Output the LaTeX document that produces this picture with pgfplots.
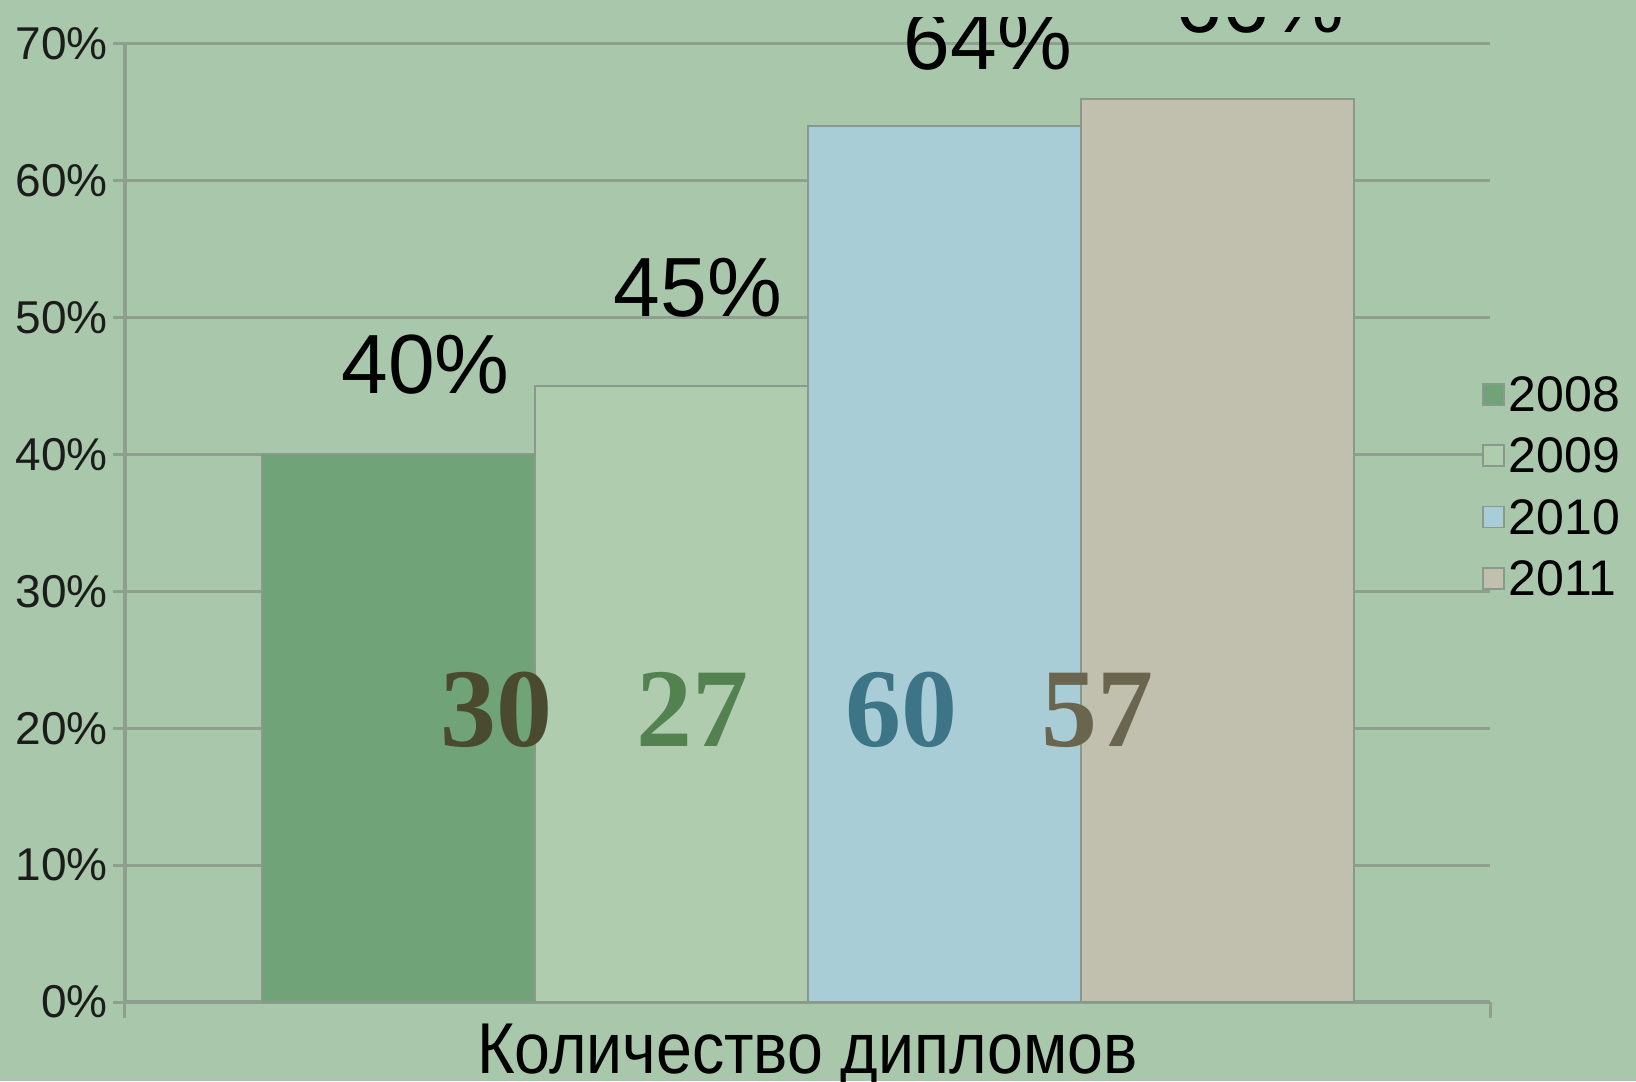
\documentclass[border=0pt]{standalone}
\usepackage{graphicx}
\usepackage{pgfplots}
\pgfplotsset{compat=1.18}
\usepackage{fontspec}
\setmainfont{Liberation Sans}
\newfontfamily\tnr{Liberation Serif}
\definecolor{bgc}{HTML}{A9C7AB}
\definecolor{gridc}{HTML}{8F9F8E}
\definecolor{edgec}{HTML}{8A9A8A}
\definecolor{cA}{HTML}{70A377}
\definecolor{cB}{HTML}{AFCCAF}
\definecolor{cC}{HTML}{A9CDD7}
\definecolor{cD}{HTML}{C1BFAE}
\definecolor{nA}{HTML}{4A4A2E}
\definecolor{nB}{HTML}{53814F}
\definecolor{nC}{HTML}{3D7587}
\definecolor{nD}{HTML}{6A654F}
\definecolor{txt}{HTML}{1C1C1C}
\begin{document}
\begin{tikzpicture}
\fill[bgc] (-62.5pt,-39.5pt) rectangle (755.5pt,501pt);
\begin{axis}[
  scale only axis,
  width=682.5pt, height=479.1pt,
  at={(0pt,0pt)}, anchor=south west,
  xmin=-0.5, xmax=0.5, ymin=0, ymax=70,
  ybar, bar width=0.2,
  axis lines*=left,
  axis line style={draw=gridc, line width=2pt},
  ytick={0,10,...,70},
  yticklabel={\pgfmathprintnumber{\tick}\%},
  /pgf/number format/assume math mode=true,
  yticklabel style={font=\fontsize{23}{26}\selectfont, text=txt, anchor=east, inner sep=0pt, xshift=-2.5pt},
  ytick align=outside,
  major tick length=6pt,
  ytick style={draw=gridc, line width=1.5pt},
  ymajorgrids,
  grid style={draw=gridc, line width=1.5pt},
  xtick={0},
  xticklabels={\scalebox{0.895}[1]{Количество дипломов}},
  xtick style={draw=none},
  xticklabel style={font=\fontsize{36}{40}\selectfont, text=black, anchor=base, inner sep=0pt, yshift=-29.5pt},
  extra x ticks={-0.5,0.5},
  extra x tick labels={},
  extra x tick style={xtick style={draw=gridc, line width=1.5pt}, major tick length=8pt, xtick align=outside},
  legend style={at={(axis description cs:0.9941,0.6533)}, anchor=north west, draw=none, fill=none,
    inner sep=0pt, font=\fontsize{25}{30}\selectfont, row sep=13.25pt,
    nodes={inner xsep=2pt, inner ysep=0pt, text depth=0pt}},
  legend cell align=left,
  legend image code/.code={\draw[#1, draw=edgec, line width=0.8pt] (0pt,-5.5pt) rectangle (10.5pt,5pt);},
  nodes near coords={\pgfmathprintnumber{\pgfplotspointmeta}\%},
  clip=false,
]
\addplot[fill=cA, draw=edgec, line width=1pt, bar shift=-0.3,
  every node near coord/.append style={anchor=base, inner sep=0pt, yshift=30.5pt, xshift=13.75pt, font=\fontsize{42}{48}\selectfont, text=black}]
  coordinates {(0,40)};
\addplot[fill=cB, draw=edgec, line width=1pt, bar shift=-0.1,
  every node near coord/.append style={anchor=base, inner sep=0pt, yshift=35pt, xshift=13.5pt, font=\fontsize{42}{48}\selectfont, text=black}]
  coordinates {(0,45)};
\addplot[fill=cC, draw=edgec, line width=1pt, bar shift=0.1,
  every node near coord/.append style={anchor=base, inner sep=0pt, yshift=28pt, xshift=22pt, font=\fontsize{42}{48}\selectfont, text=black}]
  coordinates {(0,64)};
\addplot[fill=cD, draw=edgec, line width=1pt, bar shift=0.3,
  every node near coord/.append style={anchor=base, inner sep=0pt, yshift=33pt, xshift=21.5pt, font=\fontsize{42}{48}\selectfont, text=black}]
  coordinates {(0,66)};
\legend{2008,2009,2010,2011}
\node[anchor=base, inner sep=0pt, font=\tnr\bfseries\fontsize{56}{60}\selectfont, text=nA] at (axis cs:-0.2275,18.64) {30};
\node[anchor=base, inner sep=0pt, font=\tnr\bfseries\fontsize{56}{60}\selectfont, text=nB] at (axis cs:-0.0844,18.64) {27};
\node[anchor=base, inner sep=0pt, font=\tnr\bfseries\fontsize{56}{60}\selectfont, text=nC] at (axis cs:0.0692,18.64) {60};
\node[anchor=base, inner sep=0pt, font=\tnr\bfseries\fontsize{56}{60}\selectfont, text=nD] at (axis cs:0.2121,18.64) {57};
\end{axis}
\fill[bgc] (-62.5pt,492.5pt) rectangle (755.5pt,502pt);
\pgfresetboundingbox
\path[use as bounding box] (-62.5pt,-39.5pt) rectangle (755.5pt,501pt);
\end{tikzpicture}
\end{document}
